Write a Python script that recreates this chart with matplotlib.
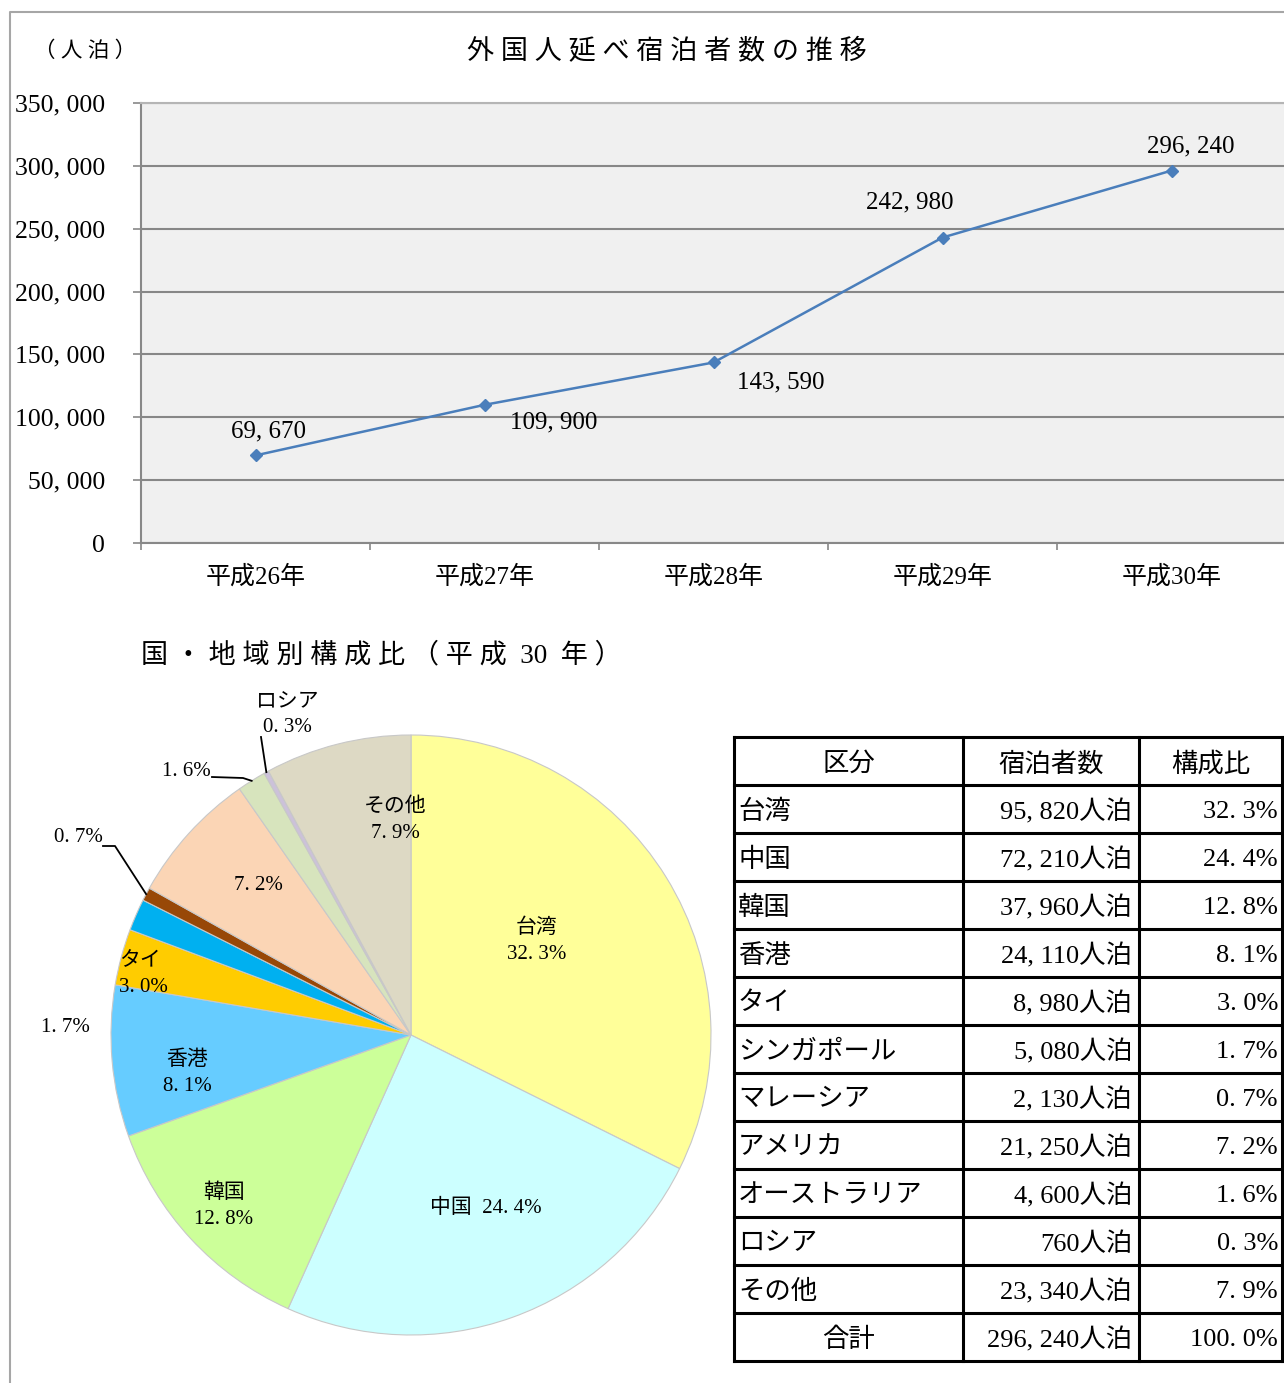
import matplotlib
matplotlib.use("Agg")
import matplotlib.pyplot as plt
import numpy as np

plt.rcParams['font.family'] = ['Liberation Serif', 'Noto Sans CJK JP']

# データ
years = ["平成26年", "平成27年", "平成28年", "平成29年", "平成30年"]
guests = [69670, 109900, 143590, 242980, 296240]

regions = ["台湾", "中国", "韓国", "香港", "タイ", "シンガポール", "マレーシア",
           "アメリカ", "オーストラリア", "ロシア", "その他"]
counts = [95820, 72210, 37960, 24110, 8980, 5080, 2130, 21250, 4600, 760, 23340]
shares = [32.3, 24.4, 12.8, 8.1, 3.0, 1.7, 0.7, 7.2, 1.6, 0.3, 7.9]
total_count = 296240
total_share = 100.0

pie_colors = ["#ffff99", "#ccffff", "#ccff99", "#66ccff", "#ffcc00", "#00b0f0",
              "#984807", "#fbd5b5", "#d7e4bd", "#ccc1da", "#ddd9c4"]


def num(v):
    return f"{v:,}".replace(",", ", ")


def pct(v):
    return f"{v:.1f}%".replace(".", ". ")


def spaced(s):
    return " ".join(s)


W, H = 1284, 1383
fig = plt.figure(figsize=(W / 100, H / 100), dpi=100)

# 外枠とタイトル
bg = fig.add_axes([0, 0, 1, 1], zorder=-5)
bg.set_xlim(0, W)
bg.set_ylim(H, 0)
bg.axis("off")
bg.plot([10, 10, W], [H, 12, 12], color="#a6a6a6", lw=1.5)
bg.text(85, 52, spaced("（人泊）"), fontsize=15.5, ha="center", va="center")
bg.text(667, 52, spaced("外国人延べ宿泊者数の推移"), fontsize=19.5, ha="center", va="center")
bg.text(141, 656, "国 ・ 地 域 別 構 成 比 （ 平 成  30  年 ）",
        fontsize=19.5, ha="left", va="center")


def box(x0, y0, x1, y1):
    return [x0 / W, 1 - y1 / H, (x1 - x0) / W, (y1 - y0) / H]


# 折れ線グラフ
ax = fig.add_axes(box(141, 103, 1284 + 2, 543))
ax.set_facecolor("#f0f0f0")
x = np.arange(len(years))
ax.plot(x, guests, color="#4a7ebb", lw=1.8, marker="D", markersize=6.5, zorder=3)
ax.set_xlim(-0.5, 4.5)
ax.set_ylim(0, 350000)
ax.set_yticks(np.arange(0, 350001, 50000))
ax.set_yticklabels([num(v) for v in range(0, 350001, 50000)], fontsize=18.5)
ax.yaxis.grid(True, color="#878787", lw=1.5)
ax.set_axisbelow(True)
ax.set_xticks(np.arange(-0.5, 4.6, 1))
ax.set_xticklabels([])
ax.set_xticks(x, minor=True)
ax.set_xticklabels(years, minor=True, fontsize=18)
ax.tick_params(axis="x", which="major", length=5, width=1.2, color="#888888", direction="out")
ax.tick_params(axis="x", which="minor", length=0, pad=16)
ax.tick_params(axis="y", length=6, width=1.2, color="#888888", pad=20)
for s in ["left", "bottom"]:
    ax.spines[s].set_color("#888888")
    ax.spines[s].set_linewidth(1.5)
ax.spines["top"].set_color("#b5b5b5")
ax.spines["top"].set_linewidth(1.5)
ax.spines["right"].set_visible(False)

label_off = [(13, 24), (69, -18), (67, -20), (-33, 35), (19, 24)]
for xi, v, off in zip(x, guests, label_off):
    ax.annotate(num(v), (xi, v), xytext=off, textcoords="offset pixels",
                ha="center", va="center", fontsize=18)

# 円グラフ
R = 300
pax = fig.add_axes(box(411 - 350, 1035 - 350, 411 + 350, 1035 + 350))
pax.pie(counts, colors=pie_colors, startangle=90, counterclock=False, radius=1,
        wedgeprops=dict(edgecolor="#c8c8c8", linewidth=0.8))
lim = 350 / R
pax.set_xlim(-lim, lim)
pax.set_ylim(-lim, lim)
pax.set_aspect("equal")
pax.axis("off")

frac = np.cumsum([0] + counts[:-1]) / sum(counts) + np.array(counts) / sum(counts) / 2
mid = np.deg2rad(90 - 360 * frac)

pie_labels = [f"台湾\n{pct(shares[0])}", f"中国  {pct(shares[1])}", f"韓国\n{pct(shares[2])}",
              f"香港\n{pct(shares[3])}", f"タイ\n{pct(shares[4])}", pct(shares[5]),
              pct(shares[6]), pct(shares[7]), pct(shares[8]),
              f"ロシア\n{pct(shares[9])}", f"その他\n{pct(shares[10])}"]
label_px = [(537, 941), (486, 1208), (224, 1206), (187, 1073), (140, 975), (65, 1027),
            (78, 838), (258, 886), (186, 771), (287, 715), (395, 820)]
for i, (lab, (px, py)) in enumerate(zip(pie_labels, label_px)):
    ha = "center"
    if i == 4:
        ha = "left"
        px = 119
    pax.text((px - 411) / R, (1035 - py) / R, lab, ha=ha, va="center",
             fontsize=15, linespacing=1.5, multialignment="left" if i == 4 else "center")

# 引き出し線
leaders = {6: [(103, 846), (115, 846)], 8: [(212, 777), (243, 778)], 9: [(261, 737)]}
for i, pts in leaders.items():
    xs = [(p[0] - 411) / R for p in pts] + [np.cos(mid[i])]
    ys = [(1035 - p[1]) / R for p in pts] + [np.sin(mid[i])]
    pax.plot(xs, ys, color="black", lw=1.3, clip_on=False)

# 表
tx0, ty0, tx1, ty1 = 734, 737, 1282, 1361
tax = fig.add_axes(box(tx0, ty0, tx1, ty1))
tax.set_xlim(0, tx1 - tx0)
tax.set_ylim(ty1 - ty0, 0)
tax.axis("off")
rows = [("区分", "宿泊者数", "構成比")]
rows += [(r, num(c) + "人泊", pct(s)) for r, c, s in zip(regions, counts, shares)]
rows += [("合計", num(total_count) + "人泊", pct(total_share))]
col_x = [0, 229, 405, tx1 - tx0]
rh = (ty1 - ty0) / len(rows)
for k in range(len(rows) + 1):
    tax.plot([0, col_x[-1]], [k * rh, k * rh], color="black", lw=2.2, clip_on=False,
             solid_capstyle="projecting")
for cx in col_x:
    tax.plot([cx, cx], [0, ty1 - ty0], color="black", lw=2.2, clip_on=False,
             solid_capstyle="projecting")
fs = 19
for k, row in enumerate(rows):
    yc = (k + 0.5) * rh + 3
    if k == 0 or k == len(rows) - 1:
        tax.text((col_x[0] + col_x[1]) / 2, yc, row[0], ha="center", va="center", fontsize=fs)
    else:
        tax.text(col_x[0] + 4, yc, row[0], ha="left", va="center", fontsize=fs)
    if k == 0:
        tax.text((col_x[1] + col_x[2]) / 2, yc, row[1], ha="center", va="center", fontsize=fs)
        tax.text((col_x[2] + col_x[3]) / 2, yc, row[2], ha="center", va="center", fontsize=fs)
    else:
        tax.text(col_x[2] - 7, yc, row[1], ha="right", va="center", fontsize=fs)
        tax.text(col_x[3] - 4, yc, row[2], ha="right", va="center", fontsize=fs)

fig.savefig("out.png", dpi=100)
